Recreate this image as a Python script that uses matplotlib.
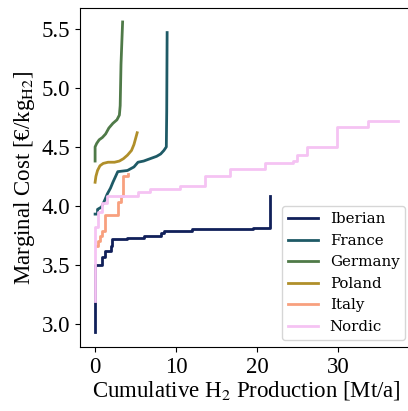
import matplotlib
matplotlib.use("Agg")
import matplotlib.pyplot as plt

# supply curves: cumulative production [Mt/a] vs marginal cost [EUR/kg]
iberian_x = [0, 0, 0.9, 1.2, 2.0, 2.1, 4.0, 6.0, 8.2, 8.5, 12.0, 16.0, 19.5, 21.6, 21.6]
iberian_y = [2.93, 3.50, 3.57, 3.62, 3.66, 3.72, 3.73, 3.74, 3.77, 3.79, 3.80, 3.805, 3.81, 3.82, 4.08]

france_x = [0, 0.3, 0.3, 0.8, 1.2, 1.5, 1.9, 2.2, 2.6, 2.8, 4.0, 4.8, 5.3, 6.0, 6.8, 7.6, 8.1, 8.5, 8.8, 8.85, 8.9]
france_y = [3.93, 3.93, 3.97, 3.99, 4.05, 4.10, 4.15, 4.20, 4.26, 4.29, 4.30, 4.33, 4.37, 4.38, 4.40, 4.42, 4.44, 4.47, 4.50, 4.80, 5.47]

germany_x = [0, 0, 0.2, 0.5, 0.9, 1.3, 1.7, 2.2, 2.7, 3.0, 3.1, 3.2, 3.4]
germany_y = [4.38, 4.50, 4.53, 4.56, 4.58, 4.61, 4.66, 4.70, 4.73, 4.77, 4.85, 5.20, 5.56]

poland_x = [0, 0.1, 0.3, 0.6, 1.0, 1.6, 2.4, 3.0, 3.5, 4.0, 4.5, 4.8, 5.0, 5.2]
poland_y = [4.20, 4.25, 4.30, 4.34, 4.36, 4.37, 4.37, 4.38, 4.40, 4.43, 4.47, 4.52, 4.57, 4.62]

italy_x = [0.2, 0.35, 0.6, 0.9, 1.2, 2.85, 3.2, 3.5, 4.0, 4.1]
italy_y = [3.66, 3.70, 3.74, 3.79, 3.92, 4.03, 4.08, 4.25, 4.25, 4.27]

nordic_x = [0, 0, 0.3, 0.8, 1.5, 4.3, 5.3, 6.8, 10.5, 13.6, 16.7, 21.0, 24.4, 25.0, 26.2, 29.9, 33.7, 37.4]
nordic_y = [3.19, 3.82, 3.95, 4.02, 4.08, 4.085, 4.12, 4.14, 4.17, 4.25, 4.31, 4.36, 4.38, 4.43, 4.50, 4.67, 4.72, 4.72]

# name, x, y, colour, stepped?
series = [
    ("Iberian", iberian_x, iberian_y, "#11205a", True),
    ("France", france_x, france_y, "#1e5a66", False),
    ("Germany", germany_x, germany_y, "#4f7a48", False),
    ("Poland", poland_x, poland_y, "#b08f2a", False),
    ("Italy", italy_x, italy_y, "#f8a07e", True),
    ("Nordic", nordic_x, nordic_y, "#f5c3f3", True),
]

plt.rcParams['font.family'] = ['Liberation Serif', 'DejaVu Serif']
plt.rcParams['mathtext.fontset'] = 'stix'

fig = plt.figure(figsize=(4.08, 4.11), dpi=100)
ax = fig.add_axes([0.196, 0.155, 0.816, 0.826])

for name, xs, ys, col, stepped in series:
    if stepped:
        ax.step(xs, ys, where='post', color=col, lw=2, label=name)
    else:
        ax.plot(xs, ys, color=col, lw=2, label=name)

ax.set_xlim(-1.87, 39.27)
ax.set_ylim(2.80, 5.68)
ax.set_xticks([0, 10, 20, 30])
ax.set_yticks([3.0, 3.5, 4.0, 4.5, 5.0, 5.5])
ax.tick_params(labelsize=16.5)
ax.set_xlabel("Cumulative H$_2$ Production [Mt/a]", fontsize=16.5, labelpad=1)
ax.set_ylabel("Marginal Cost [€/kg$_{\\mathrm{H2}}$]", fontsize=16.5, labelpad=3)

ax.legend(loc='lower right', prop={'family': 'DejaVu Serif', 'size': 10.8})

fig.savefig("out.png", dpi=100)
